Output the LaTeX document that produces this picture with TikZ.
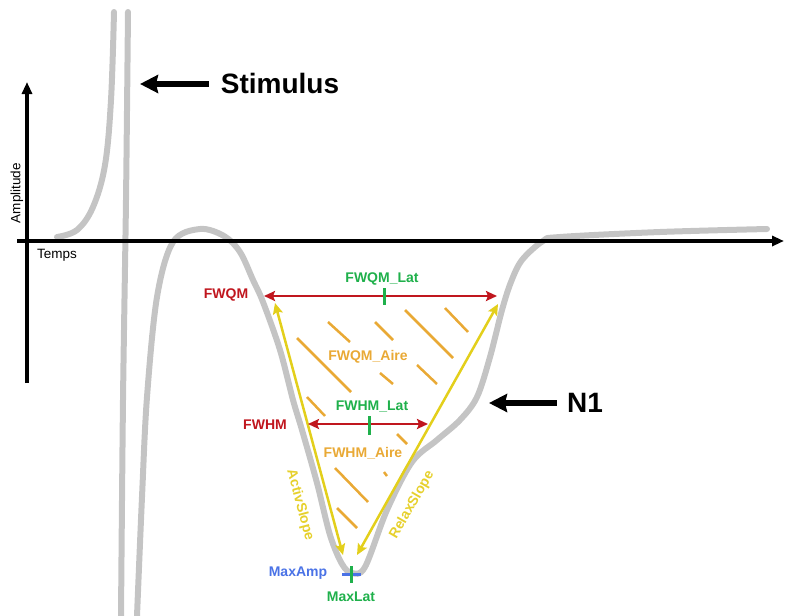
\documentclass[tikz,border=0pt]{standalone}
\usepackage{fontspec}
\setmainfont{Liberation Sans}
\usetikzlibrary{arrows.meta}
\definecolor{cgray}{HTML}{C4C4C4}
\definecolor{cred}{HTML}{C0161E}
\definecolor{cgreen}{HTML}{1FB04B}
\definecolor{cblue}{HTML}{4A72E6}
\definecolor{cyel}{HTML}{E3CF1B}
\definecolor{cyeltext}{HTML}{E6D02C}
\definecolor{corange}{HTML}{E9A935}
\begin{document}
\begin{tikzpicture}[x=1pt,y=-1pt,
  lab/.style={font=\fontsize{14}{16}\selectfont\bfseries, inner sep=0pt},
  biglab/.style={font=\fontsize{28}{32}\selectfont\bfseries, inner sep=0pt},
  axlab/.style={font=\fontsize{13.5}{16}\selectfont, inner sep=0pt},
  curve/.style={cgray, line width=6pt, line cap=round, line join=round},
  axis/.style={line width=3.5pt, -{Triangle[length=12pt,width=10pt]}},
  bigarrow/.style={line width=5.5pt, -{Stealth[length=18pt,width=18pt,inset=2pt]}},
  redarr/.style={cred, line width=2.5pt, {Stealth[length=11pt,width=10pt,inset=2pt]}-{Stealth[length=11pt,width=10pt,inset=2pt]}},
  yelarr/.style={cyel, line width=2.5pt, {Stealth[length=11pt,width=10pt,inset=2pt]}-{Stealth[length=11pt,width=10pt,inset=2pt]}},
  hatch/.style={corange, line width=2.5pt},
  marktick/.style={line width=3pt}]
\useasboundingbox (0,0) rectangle (785,616);

% stimulus artefact
\draw[curve] plot[smooth, tension=0.6] coordinates {(57,237) (77,230) (93,207) (105,165) (111,100) (114,12)};
\draw[curve] plot[smooth] coordinates {(128,12) (126,200) (123,400) (121,616)};

% N1 wave
\draw[curve] plot[smooth, tension=0.55] coordinates {(137,616) (142,497) (147,397) (157,297) (173,242) (200,229) (224,236) (240,252) (253,280) (263,302) (280,350) (293,400) (302,430) (317,483) (330,535) (342,564) (352,573) (365,567) (387,510) (412,462) (437,440) (460,420) (477,397) (490,357) (502,310) (511,282) (522,260) (543,241) (560,237) (660,232) (767,229)};

% axes
\coordinate (ybot) at (27,383);
\coordinate (ytop) at (27,82);
\coordinate (xleft) at (17,241);
\coordinate (xright) at (784,241);
\draw[axis] (ybot) -- (ytop);
\draw[axis] (xleft) -- (xright);
\node[axlab, rotate=90] (amp) at (17,193) {Amplitude};
\node[axlab] (temps) at (57,255) {Temps};

% labels with arrows
\node[biglab] (stim) at (280,83) {Stimulus};
\coordinate (stimtip) at (140,84);
\draw[bigarrow] (stim.west) ++(-12,1) coordinate (stimstart) -- (stimtip);
\node[biglab] (n1) at (585,403) {N1};
\coordinate (n1tip) at (489,403);
\draw[bigarrow] (n1.west) ++(-10,0) coordinate (n1start) -- (n1tip);

% hatching
\draw[hatch] (328,322) -- (350,342);
\draw[hatch] (375,322) -- (393,340);
\draw[hatch] (405,310) -- (453,358);
\draw[hatch] (445,308) -- (468,332);
\draw[hatch] (297,338) -- (351,392);
\draw[hatch] (380,373) -- (393,384);
\draw[hatch] (417,365) -- (437,384);
\draw[hatch] (307,397) -- (325,416);
\draw[hatch] (397,434) -- (407,444);
\draw[hatch] (384,472) -- (387,476);
\draw[hatch] (335,468) -- (368,502);
\draw[hatch] (337,508) -- (357,528);

% slopes
\coordinate (actTop) at (275,303);
\coordinate (actBot) at (343,555);
\coordinate (relBot) at (357,555);
\coordinate (relTop) at (498,304);
\draw[yelarr] (actBot) -- (actTop);
\draw[yelarr] (relBot) -- (relTop);
\node[lab, cyeltext, rotate=-75] (activ) at (300,505) {ActivSlope};
\node[lab, cyeltext, rotate=60] (relax) at (412,505) {RelaxSlope};

% widths
\coordinate (fwqmL) at (264,296);
\coordinate (fwqmR) at (497,296);
\draw[redarr] (fwqmL) -- (fwqmR);
\coordinate (fwhmL) at (308,424);
\coordinate (fwhmR) at (428,424);
\draw[redarr] (fwhmL) -- (fwhmR);
\node[lab, cred] (fwqm) at (226,295) {FWQM};
\node[lab, cred] (fwhm) at (265,425) {FWHM};

\coordinate (qlatT) at (384,288);
\coordinate (qlatB) at (384,305);
\draw[marktick, cgreen] (qlatT) -- (qlatB);
\coordinate (hlatT) at (369,416);
\coordinate (hlatB) at (369,435);
\draw[marktick, cgreen] (hlatT) -- (hlatB);
\node[lab, cgreen] (fwqmlat) at (382,279) {FWQM\_Lat};
\node[lab, cgreen] (fwhmlat) at (372,407) {FWHM\_Lat};

\node[lab, corange] (fwqmaire) at (368,357) {FWQM\_Aire};
\node[lab, corange] (fwhmaire) at (363,453) {FWHM\_Aire};

% maximum
\coordinate (ampL) at (342,574);
\coordinate (ampR) at (361,574);
\draw[marktick, cblue] (ampL) -- (ampR);
\coordinate (latT) at (351,566);
\coordinate (latB) at (351,583);
\draw[marktick, cgreen] (latT) -- (latB);
\node[lab, cblue] (maxamp) at (298,573) {MaxAmp};
\node[lab, cgreen] (maxlat) at (351,597) {MaxLat};
\end{tikzpicture}
\end{document}
